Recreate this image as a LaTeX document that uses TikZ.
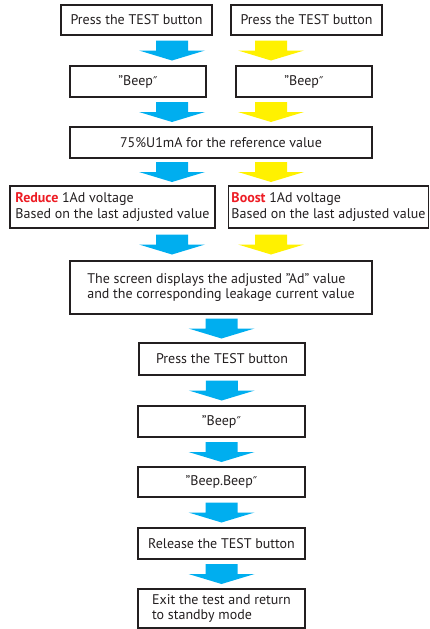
\documentclass[tikz,border=0pt]{standalone}
\usepackage{fontspec}
\setmainfont{PT Sans}
\newfontfamily\primefont{DejaVu Sans}
\usetikzlibrary{calc}
\definecolor{arrowblue}{RGB}{0,174,239}
\definecolor{arrowyellow}{RGB}{255,241,0}
\definecolor{alertred}{RGB}{237,28,36}
\definecolor{inkgray}{RGB}{35,31,32}
\newcommand\closeq{{\primefont\fontsize{12}{12}\selectfont ″}}

\begin{document}
\begin{tikzpicture}[x=1pt,y=-1pt,font=\fontsize{14}{15.5}\selectfont,text=inkgray]
      \tikzstyle{stepbox}=[draw=inkgray,line width=1.1pt,inner sep=0pt,align=center]
      \tikzstyle{wide box}=[stepbox,minimum width=302pt]
      \tikzstyle{small box}=[stepbox,minimum width=167pt,minimum height=31pt]
      \tikzset{blockarrow/.pic={
          \path[pic actions] (-16,-10) -- (16,-10) -- (16,0) -- (33,0) -- (0,10) -- (-33,0) -- (-16,0) -- cycle;}}

      \useasboundingbox (0,0) rectangle (429,629);

      % Two columns: blue one and yellow one
      \coordinate (bluecol) at (172,0);
      \coordinate (yellowcol) at (271,0);

      % Draw the upper boxes
      \node[stepbox,minimum width=151pt,minimum height=30pt] (pressL) at (136.5,20) {Press the TEST button};
      \node[stepbox,minimum width=151pt,minimum height=30pt] (pressR) at (306.5,20) {Press the TEST button};
      \node[stepbox,minimum width=136pt,minimum height=31pt] (beepL) at (138,81.5) {"Beep\closeq};
      \node[stepbox,minimum width=136pt,minimum height=31pt] (beepR) at (304,81.5) {"Beep\closeq};
      \node[wide box,minimum height=31pt] (ref) at (221,142.5) {75\%U1mA for the reference value};
      \node[stepbox,align=left,minimum width=205pt,minimum height=42pt] (reduce) at (112.5,207)
          {{\color{alertred}\bfseries Reduce} 1Ad voltage\\Based on the last adjusted value};
      \node[stepbox,align=left,minimum width=200pt,minimum height=42pt] (boost) at (328.5,207)
          {{\color{alertred}\bfseries Boost} 1Ad voltage\\Based on the last adjusted value};
      \node[wide box,align=left,minimum height=53pt] (screen) at (221,287.5)
          {The screen displays the adjusted "Ad" value\\and the corresponding leakage current value};

      % Draw the lower boxes
      \node[small box,minimum width=166pt,minimum height=32pt] (press2) at (222,359) {Press the TEST button};
      \node[small box] (beep2) at (221.5,421.5) {"Beep\closeq};
      \node[small box,minimum height=30pt] (beepbeep) at (221.5,482) {"Beep.Beep\closeq};
      \node[small box] (release) at (221.5,543.5) {Release the TEST button};
      \node[small box,align=left,minimum height=39pt] (exit) at (221.5,608.5)
          {Exit the test and return\\to standby mode};

      % Arrows between the boxes
      \foreach \src/\dst in {pressL/beepL,beepL/ref,ref/reduce,reduce/screen}
          \pic[fill=arrowblue] at ($(\src.south -| bluecol)!.5!(\dst.north -| bluecol)$) {blockarrow};
      \foreach \src/\dst in {pressR/beepR,beepR/ref,ref/boost,boost/screen}
          \pic[fill=arrowyellow] at ($(\src.south -| yellowcol)!.5!(\dst.north -| yellowcol)$) {blockarrow};
      \foreach \src/\dst in {screen/press2,press2/beep2,beep2/beepbeep,beepbeep/release,release/exit}
          \pic[fill=arrowblue] at ($(\src.south)!.5!(\dst.north)$) {blockarrow};
\end{tikzpicture}
\end{document}
